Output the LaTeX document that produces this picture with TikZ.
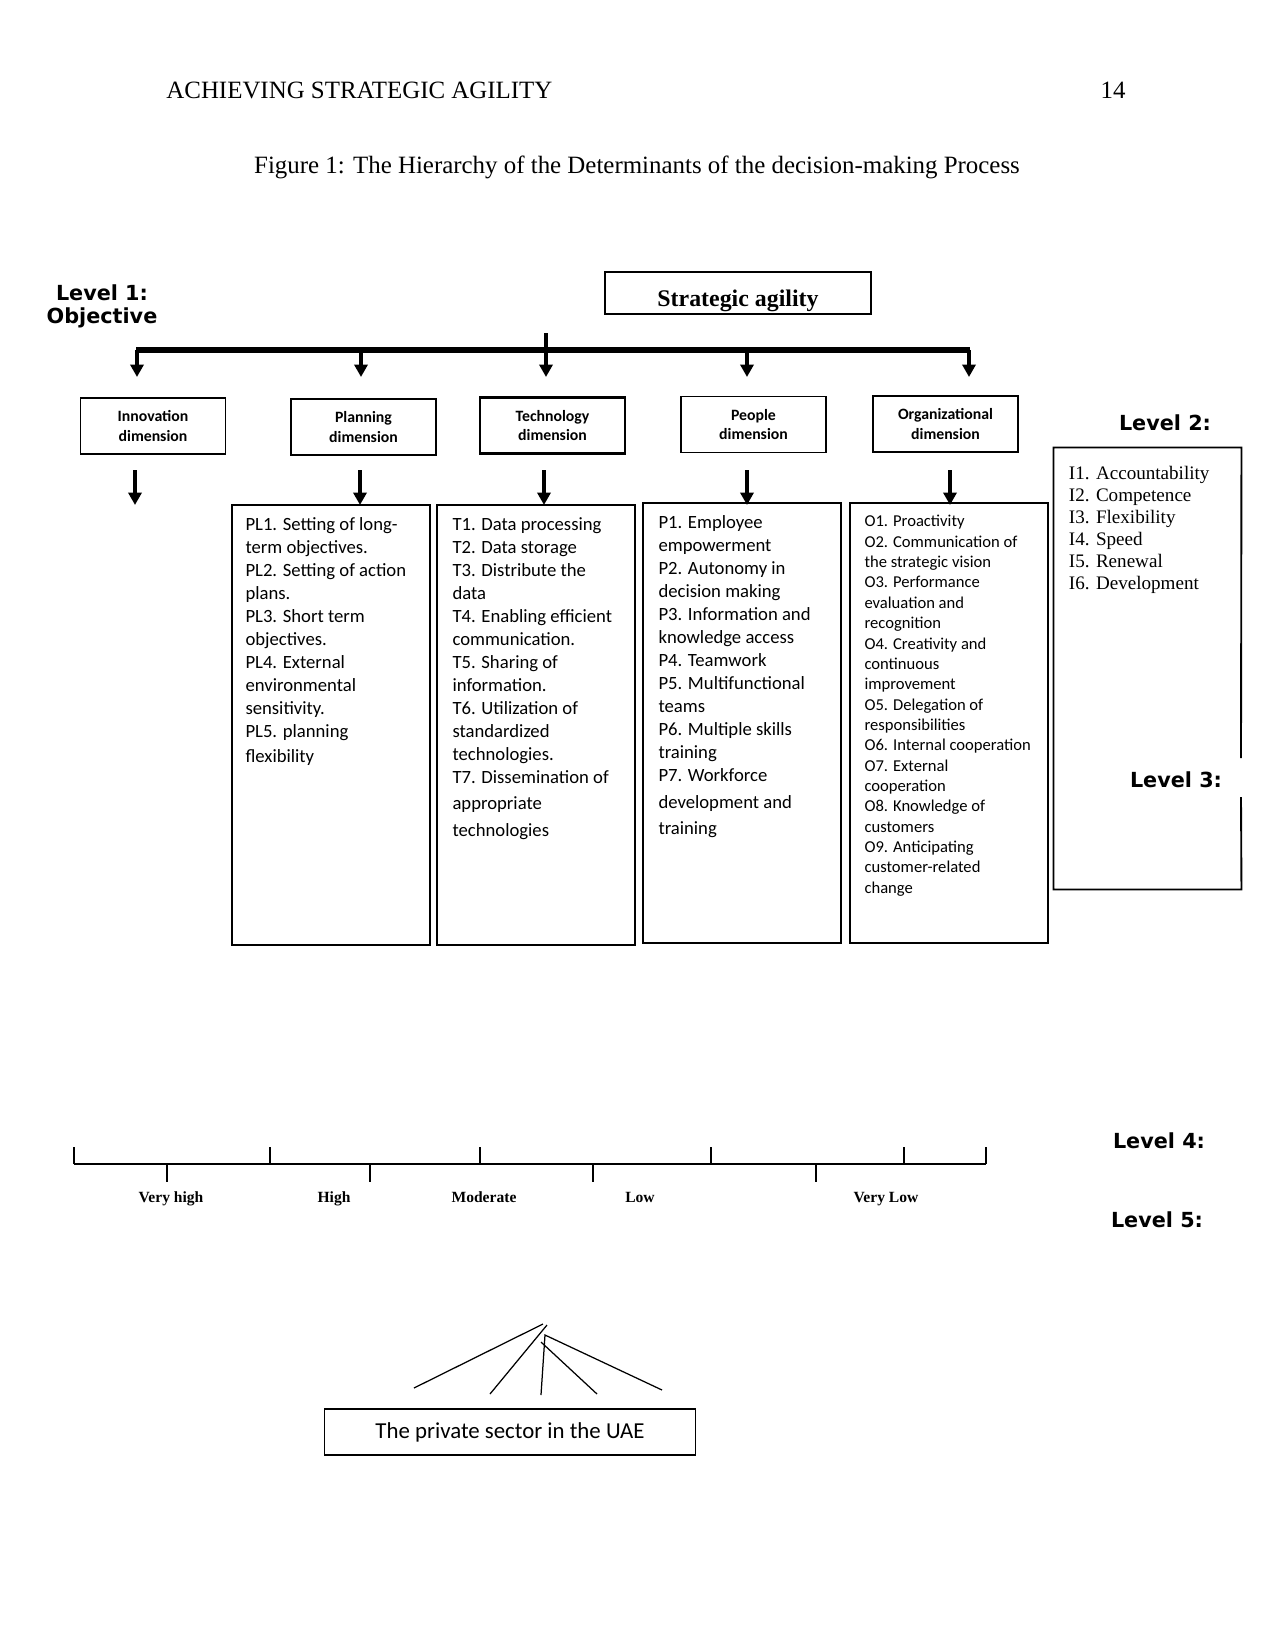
\documentclass[tikz,border=0pt]{standalone}
\usepackage{fontspec}
\setmainfont{Liberation Serif}
\newfontfamily\calfont{Carlito}
\newfontfamily\dvsfont{DejaVu Sans}
\usetikzlibrary{arrows.meta}
\tikzset{
  dimbox/.style={draw, line width=0.8pt, minimum width=69.6bp, minimum height=26.9bp, inner sep=0pt, align=center,
    font=\calfont\bfseries\fontsize{7.6}{9.6}\selectfont},
  listbox/.style={draw, line width=0.9pt, minimum width=95bp, minimum height=211.2bp, inner sep=0pt},
  listtext/.style={anchor=north west, inner sep=0pt, align=left},
  levellab/.style={font=\dvsfont\bfseries\fontsize{10}{11.2}\selectfont, align=center, inner sep=0pt},
  droparr/.style={line width=2.1bp, -{Triangle[width=6.3bp,length=6bp]}},
  scalelab/.style={font=\bfseries\fontsize{7.5}{9}\selectfont, inner sep=0pt, text height=5.2bp, text depth=1.6bp},
  tick/.style={line width=0.75pt},
  fan/.style={line width=0.6pt}
}
\begin{document}
\begin{tikzpicture}[x=0.48bp,y=-0.48bp]
\useasboundingbox (0,0) rectangle (1275,1651);

% header and title
\node[anchor=west, inner sep=0pt, font=\fontsize{12}{14}\selectfont] (hdr) at (166,90.5) {ACHIEVING STRATEGIC AGILITY};
\node[inner sep=0pt, font=\fontsize{12}{14}\selectfont] (pg) at (1113,90.5) {14};
\node[inner sep=0pt, font=\fontsize{12}{14}\selectfont] (title) at (637,167) {Figure 1: The Hierarchy of the Determinants of the decision-making Process};

% level 1
\node[levellab] (lv1) at (102,306.5) {Level 1:\\Objective};
\node[draw, line width=0.8pt, minimum width=127.7bp, minimum height=20.2bp, inner sep=0pt,
  text height=15.9bp, text depth=2.5bp,
  font=\bfseries\fontsize{11.5}{13}\selectfont] (sa) at (738,293) {Strategic agility};

% bar and drops
\coordinate (b0) at (546,333);
\coordinate (bL) at (136,350);
\coordinate (bR) at (970,350);
\draw[line width=2.6bp] (bL) -- (bR);
\foreach \i/\x in {1/137,2/361,3/546,4/747,5/969}{
  \coordinate (bt\i) at (\x,350);
  \coordinate (at\i) at (\x,377);
}
\draw[droparr] (b0) -- (at3);
\foreach \i in {1,2,4,5}{ \draw[droparr] (bt\i) -- (at\i); }

% dimension boxes
\node[dimbox] (inn) at (153,426) {Innovation\\dimension};
\node[dimbox] (pla) at (363.5,427) {Planning\\dimension};
\node[dimbox, line width=1.1pt] (tec) at (552.5,425.5) {Technology\\dimension};
\node[dimbox] (peo) at (753.5,424.5) {People\\dimension};
\node[dimbox] (org) at (945.5,424) {Organizational\\dimension};

% lower arrows
\foreach \i/\x in {1/135,2/360,3/544,4/747,5/950}{
  \coordinate (ls\i) at (\x,470);
  \coordinate (le\i) at (\x,505);
  \draw[droparr] (ls\i) -- (le\i);
}

% list boxes
\node[listbox] (plb) at (331,725) {};
\node[listbox] (tb) at (536,725) {};
\node[listbox] (pb) at (742,723) {};
\node[listbox] (ob) at (949,723) {};

\node[listtext, font=\calfont\fontsize{9}{11.1}\selectfont] (plt) at ([shift={(14,13)}]plb.north west)
 {PL1. Setting of long-\\term objectives.\\PL2. Setting of action\\plans.\\PL3. Short term\\objectives.\\PL4. External\\environmental\\sensitivity.\\PL5. planning\\[1bp]flexibility};
\node[listtext, font=\calfont\fontsize{9}{11.1}\selectfont] (tt) at ([shift={(16,13)}]tb.north west)
 {T1. Data processing\\T2. Data storage\\T3. Distribute the\\data\\T4. Enabling efficient\\communication.\\T5. Sharing of\\information.\\T6. Utilization of\\standardized\\technologies.\\T7. Dissemination of\\[1.5bp]appropriate\\[1.5bp]technologies};
\node[listtext, font=\calfont\fontsize{9}{11.1}\selectfont] (pt) at ([shift={(16,13)}]pb.north west)
 {P1. Employee\\empowerment\\P2. Autonomy in\\decision making\\P3. Information and\\knowledge access\\P4. Teamwork\\P5. Multifunctional\\teams\\P6. Multiple skills\\training\\P7. Workforce\\[1.5bp]development and\\[1.5bp]training};
\node[listtext, font=\calfont\fontsize{8}{9.8}\selectfont] (ot) at ([shift={(15,13)}]ob.north west)
 {O1. Proactivity\\O2. Communication of\\the strategic vision\\O3. Performance\\evaluation and\\recognition\\O4. Creativity and\\continuous\\improvement\\O5. Delegation of\\responsibilities\\O6. Internal cooperation\\O7. External\\cooperation\\O8. Knowledge of\\customers\\O9. Anticipating\\customer-related\\change};

% I box with gap in the right border
\node[minimum width=89.8bp, minimum height=211.7bp, inner sep=0pt] (ib) at (1147.5,668.5) {};
\coordinate (gapTop) at (1241,758);
\coordinate (gapBot) at (1241,797);
\draw[line width=0.9pt] (gapTop) -- (ib.north east) -- (ib.north west) -- (ib.south west) -- (ib.south east) -- (gapBot);
\node[listtext, font=\fontsize{9.2}{10.6}\selectfont] (it) at ([shift={(15,18)}]ib.north west)
 {I1. Accountability\\I2. Competence\\I3. Flexibility\\I4. Speed\\I5. Renewal\\I6. Development};

% level labels
\node[levellab] (lv2) at (1165,423) {Level 2:};
\node[levellab] (lv3) at (1176,780) {Level 3:};
\node[levellab] (lv4) at (1159,1141) {Level 4:};
\node[levellab] (lv5) at (1157,1220) {Level 5:};

% scale
\coordinate (sL) at (74,1164);
\coordinate (sR) at (986,1164);
\draw[tick] (sL) -- (sR);
\foreach \i/\x in {1/74,2/270,3/480,4/711,5/904,6/986}{
  \coordinate (ub\i) at (\x,1164);
  \coordinate (ut\i) at (\x,1147);
  \draw[tick] (ub\i) -- (ut\i);
}
\foreach \i/\x in {1/167,2/370,3/593,4/816}{
  \coordinate (db\i) at (\x,1164);
  \coordinate (dt\i) at (\x,1182);
  \draw[tick] (db\i) -- (dt\i);
}
\node[scalelab] (s1) at (171,1199) {Very high};
\node[scalelab] (s2) at (334,1199) {High};
\node[scalelab] (s3) at (484,1199) {Moderate};
\node[scalelab] (s4) at (640,1199) {Low};
\node[scalelab] (s5) at (886,1199) {Very Low};

% fan lines
\coordinate (f1a) at (414,1388); \coordinate (f1b) at (543,1324);
\coordinate (f2a) at (490,1394); \coordinate (f2b) at (547,1325);
\coordinate (f3a) at (541,1395); \coordinate (f3b) at (545,1335);
\coordinate (f4a) at (541,1342); \coordinate (f4b) at (597,1394);
\coordinate (f5b) at (662,1390);
\draw[fan] (f1a) -- (f1b);
\draw[fan] (f2a) -- (f2b);
\draw[fan] (f3a) -- (f3b) -- (f5b);
\draw[fan] (f4a) -- (f4b);

\node[draw, line width=0.7pt, minimum width=178bp, minimum height=22bp, inner sep=0pt,
  font=\calfont\fontsize{11}{13}\selectfont] (ps) at (510,1432) {The private sector in the UAE};
\end{tikzpicture}
\end{document}
